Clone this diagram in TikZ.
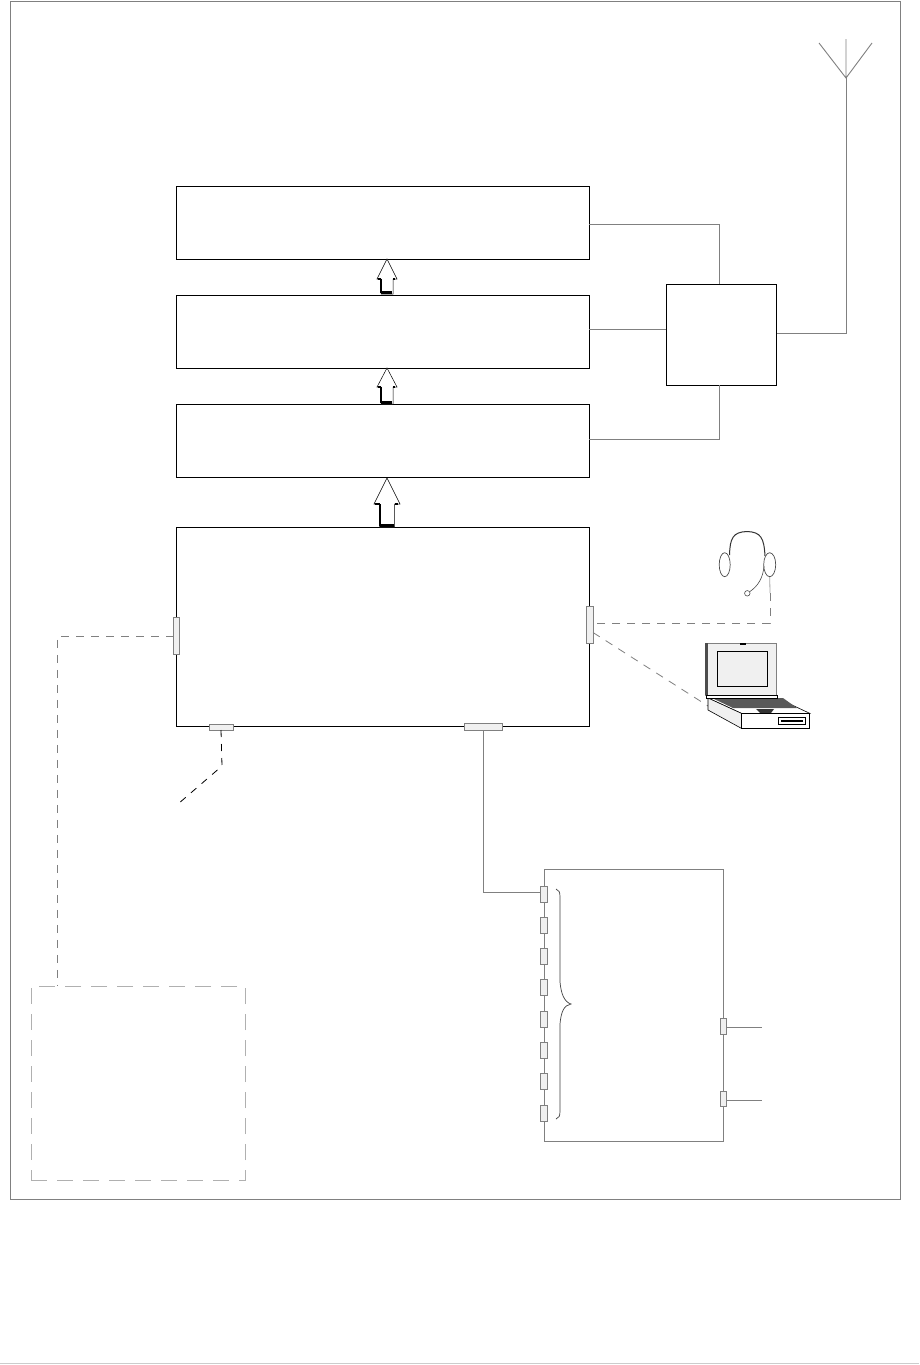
\documentclass[tikz,border=0pt]{standalone}
\usepackage{xcolor}
\usetikzlibrary{positioning, calc, shapes.geometric}
\definecolor{wire}{HTML}{808080}
\definecolor{portfill}{HTML}{F0F0F0}
\definecolor{dashbox}{HTML}{B0B0B0}
\definecolor{rulegray}{HTML}{CCCCCC}
\tikzset{
  block/.style={draw=black, line width=0.9pt, fill=white, inner sep=0pt, outer sep=0pt},
  port/.style={draw=wire, line width=0.9pt, fill=portfill, inner sep=0pt, outer sep=0pt},
  link/.style={draw=wire, line width=0.9pt},
  dashlink/.style={draw=wire, line width=0.8pt, dash pattern=on 8pt off 7pt},
  laptopline/.style={draw=black, line width=0.8pt}
}

\begin{document}
\begin{tikzpicture}[x=1pt, y=-1pt]
  \useasboundingbox (0,0) rectangle (919,1365);
  \fill[white] (0,0) rectangle (919,1365);
  \node[draw=wire, line width=0.9pt, inner sep=0pt, minimum width=889.5, minimum height=1198] (frame) at (455.25,600) {};
  \draw[rulegray, line width=1.5pt] (0,1363.5) -- (919,1363.5);

  % main blocks
  \node[block, minimum width=412.6, minimum height=73] (toplayer) at (382.9,222.5) {};
  \node[block, minimum width=412.6, minimum height=73] (midlayer) at (382.9,331.7) {};
  \node[block, minimum width=412.6, minimum height=73] (lowlayer) at (382.9,440.7) {};
  \node[block, minimum width=412.6, minimum height=199] (board) at (382.9,626.5) {};
  \node[block, minimum width=110.6, minimum height=101] (radio) at (721.5,334.5) {};

  % radio wiring
  \draw[link] ([yshift=-1.5]toplayer.east) -| ([xshift=-2.5]radio.north);
  \draw[link] ([yshift=2.7]midlayer.east) -- ([yshift=5.5]radio.west);
  \draw[link] ([yshift=1.7]lowlayer.east) -| ([xshift=-2.5]radio.south);
  \coordinate (antfoot) at (846,78);
  \coordinate (anttop) at (846,39);
  \coordinate (antleft) at (819,43);
  \coordinate (antright) at (872,43);
  \draw[link] ([yshift=1.5]radio.east) -| (antfoot);
  \draw[link] (antfoot) -- (anttop) (antleft) -- (antfoot) -- (antright);

  % block arrows
  \foreach \tip/\head/\foot/\hw/\sw in {259/279/294/10/6, 368/387/404/10/6, 478/504/527/13/7.5}{
    \draw[black, line width=0.5pt, fill=white] (387,\tip) -- (387+\hw,\head) -- (387+\sw,\head) -- (387+\sw,\foot) -- (387-\sw,\foot) -- (387-\sw,\head) -- (387-\hw,\head) -- cycle;
    \draw[black, line width=2pt] (387-\sw,\head) -- (387-\sw,\foot-1);
    \draw[black, line width=3pt] (387-\sw,\foot-1.5) -- (387+\sw-1,\foot-1.5);
    \draw[black, line width=2pt] (387-\hw+1,\head) -- (387-\sw,\head) (387+\sw,\head) -- (387+\hw-2,\head);
  }

  % board ports
  \node[port, minimum width=6, minimum height=37] (portleft) at (176.8,636) {};
  \node[port, minimum width=7, minimum height=37] (portright) at (589.5,624.5) {};
  \node[port, minimum width=24, minimum height=6] (portant) at (221,727) {};
  \node[port, minimum width=38, minimum height=7] (portbus) at (483,726.5) {};

  % dashed expansion box
  \node[draw=dashbox, line width=0.9pt, dash pattern=on 16pt off 10pt, inner sep=0pt, minimum width=214, minimum height=194] (expansion) at (138,1083) {};
  \coordinate (expdrop) at (57.7,986);
  \draw[dashlink] (portleft.west) -| (expdrop);

  % stub below the board
  \coordinate (stubbend) at (222,766);
  \coordinate (stubend) at (178,804);
  \draw[black, line width=0.8pt, dash pattern=on 7pt off 7pt] (portant.south) -- (stubbend) -- (stubend);

  % io block
  \node[draw=wire, line width=0.9pt, inner sep=0pt, minimum width=179, minimum height=272] (ioblock) at (633.8,1005) {};
  \foreach \n in {0,...,7}
    \node[port, minimum width=7.5, minimum height=16] (ioport\n) at (544,894+31.3*\n) {};
  \node[port, minimum width=6.5, minimum height=16] (outa) at (723.5,1026) {};
  \node[port, minimum width=6.5, minimum height=15] (outb) at (723.5,1098.5) {};
  \coordinate (outaend) at (762,1027);
  \coordinate (outbend) at (762,1100);
  \draw[link] (portbus.south) |- ([yshift=2]ioport0.west);
  \draw[link] ([yshift=-1]outa.east) -- (outaend);
  \draw[link] ([yshift=-1.5]outb.east) -- (outbend);
  \draw[black!75, line width=0.7pt] (556,889) .. controls (559,890) and (560,892) .. (560,897) -- (560,982)
    .. controls (561,993) and (564,1002) .. (571,1004) .. controls (564,1005) and (561,1012) .. (560,1024)
    -- (560,1111) .. controls (560,1116) and (559,1118) .. (556,1119);

  % headset
  \node[draw=black!70, line width=0.7pt, ellipse, inner sep=0pt, minimum width=11, minimum height=24] (earleft) at (724.7,564.7) {};
  \node[draw=black!70, line width=0.7pt, ellipse, inner sep=0pt, minimum width=12, minimum height=24] (earright) at (769.7,564.7) {};
  \node[draw=black!70, line width=0.6pt, circle, inner sep=0pt, minimum size=5.5] (mic) at (747.3,593.3) {};
  \draw[black!80, line width=1pt] (729.5,555) .. controls (730,538) and (733,532) .. (747,531.5) .. controls (761,532) and (764,538) .. (765,556);
  \draw[black!70, line width=0.6pt] (764,566) .. controls (763,578) and (758,586) .. (mic);
  \coordinate (wirebend) at (770,623);
  \coordinate (wirejoin) at (770,593);
  \draw[black!35, line width=0.8pt] (earright.south) -- (wirejoin);
  \draw[dashlink] (wirejoin) -- (wirebend) -- ([yshift=1.5]portright.east);

  % laptop
  \coordinate (laptopdrop) at (708,706);
  \draw[dashlink] ([yshift=-8]portright.east) -- (laptopdrop);
  \filldraw[fill=white, draw=black, line width=0.6pt] (708,698) -- (777,698) -- (809.7,713.3) -- (741.3,713.3) -- cycle;
  \filldraw[fill=portfill, draw=black, line width=0.6pt] (708,698) -- (741.3,713.3) -- (741.3,728.3) -- (708,710) -- cycle;
  \fill[black!65] (712,698) -- (783,698) -- (797,708) -- (733,708) -- cycle;
  \fill[black!80] (756,709) -- (774,709) -- (771,713) -- (760,713) -- cycle;
  \filldraw[fill=white, draw=black, line width=1pt] (741.3,713.3) rectangle (809.7,728.3);
  \draw[black, line width=0.6pt] (778,717.5) rectangle (805.7,724.3);
  \fill[black] (781,720) rectangle (803,722);
  \filldraw[fill=portfill, draw=black!50, line width=0.6pt] (705.3,643.3) rectangle (776,695);
  \fill[black!70] (705.3,643.3) rectangle (708.3,695);
  \draw[laptopline, fill=portfill] (717.3,651.3) rectangle (767.7,686.7);
  \fill[black] (740,643) rectangle (746,645);
  \filldraw[fill=white, draw=black, line width=0.6pt] (706,695) rectangle (777,698.5);
\end{tikzpicture}
\end{document}
